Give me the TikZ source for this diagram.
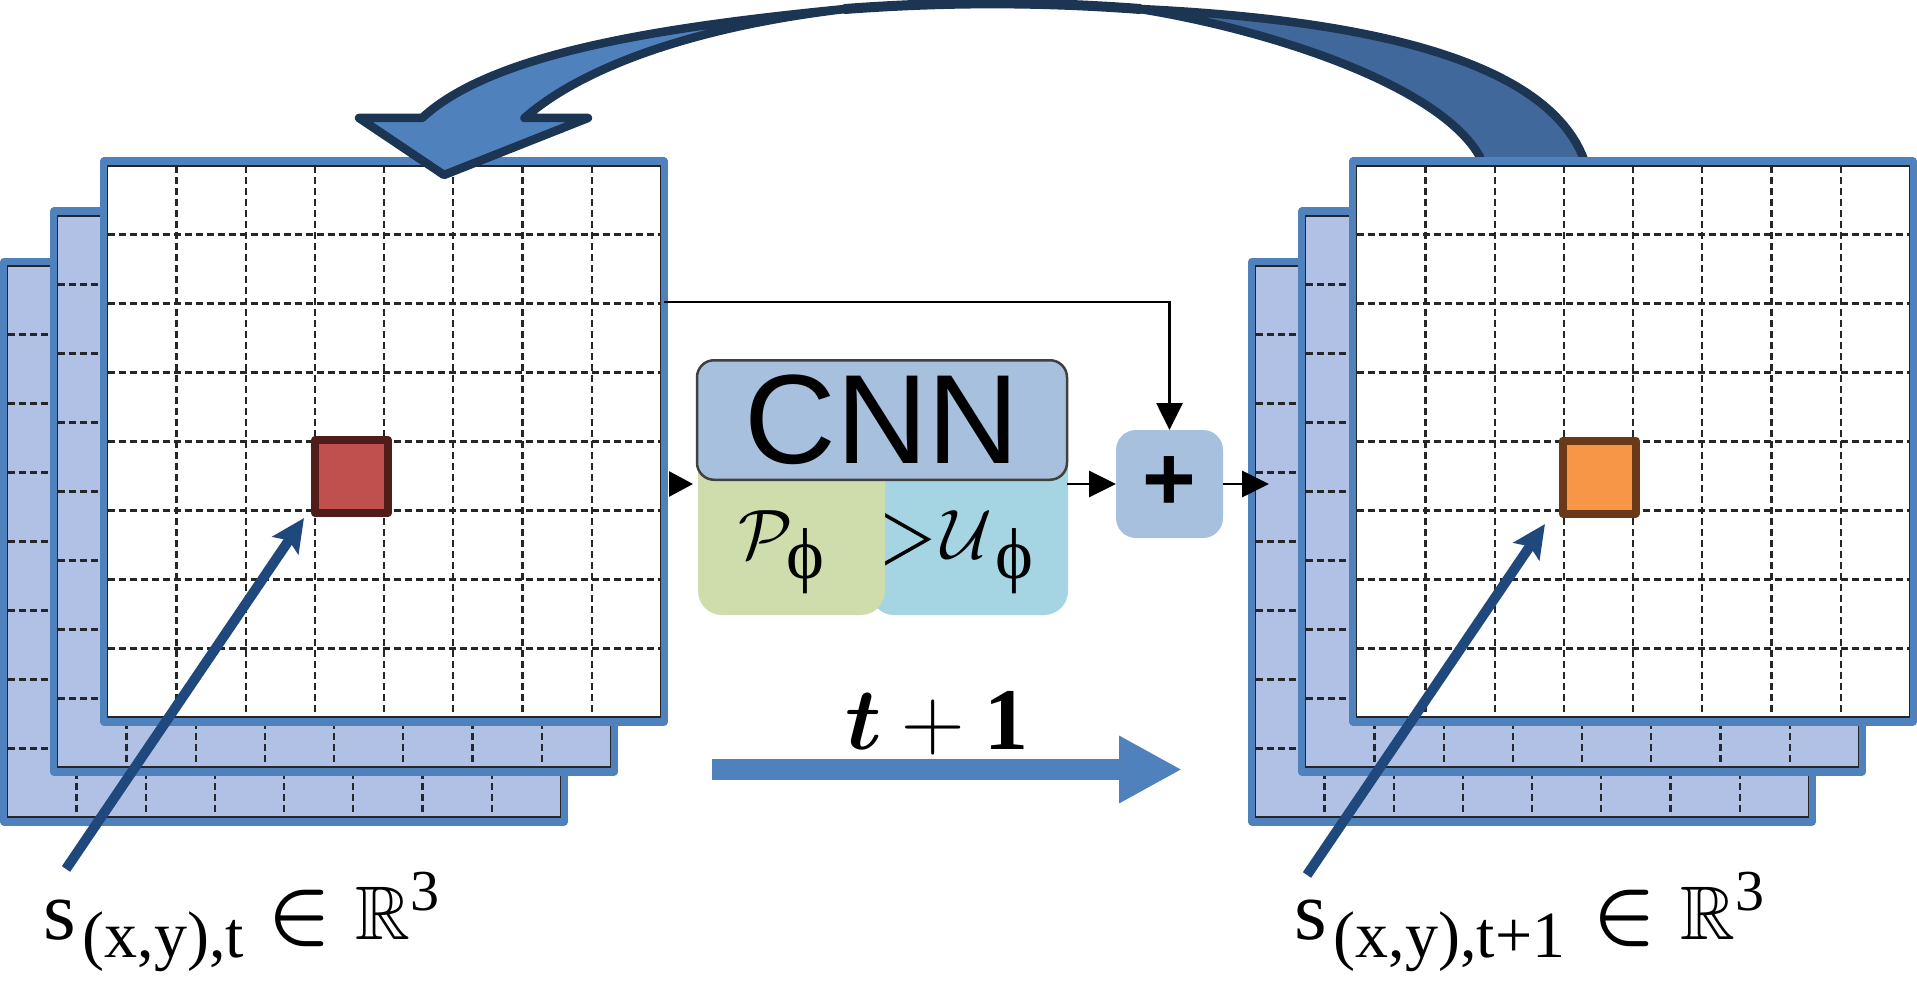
\documentclass[tikz,border=0pt]{standalone}
\usepackage{fix-cm}
\usepackage{amsmath}
\usepackage{amssymb}
\usepackage{fontspec}
\setmainfont{Liberation Serif}
\newfontfamily\boxfont{Liberation Sans}
\usetikzlibrary{arrows.meta,positioning}
\definecolor{sheetblue}{HTML}{4F81BD}
\definecolor{sheetfill}{HTML}{B0C1E5}
\definecolor{ribbondark}{HTML}{1C3553}
\definecolor{ribbonback}{HTML}{41689A}
\definecolor{boxblue}{HTML}{A7C0DE}
\definecolor{boxgreen}{HTML}{CFDDAC}
\definecolor{boxcyan}{HTML}{A5D5E2}
\definecolor{pointerblue}{HTML}{1F497D}
\definecolor{cellred}{HTML}{C0504D}
\definecolor{cellreddark}{HTML}{511D1B}
\definecolor{cellorange}{HTML}{F79646}
\definecolor{cellbrown}{HTML}{6A3A18}
\tikzset{
  sheet/.style={draw=sheetblue,line width=8pt,line join=round,minimum width=560pt,minimum height=560pt,inner sep=0pt,outer sep=0pt},
  gridframe/.style={black!85,line width=1.8pt},
  griddash/.style={black!85,line width=2.2pt,dash pattern=on 7pt off 4pt},
  cellmark/.style={line width=8pt,line join=round,minimum size=73pt,inner sep=0pt,outer sep=0pt},
  ribbon/.style={draw=ribbondark,line width=8.5pt,line join=round},
  softbox/.style={rounded corners=24pt,inner sep=0pt,outer sep=0pt},
  link/.style={black,line width=2.8pt,-{Triangle[length=27pt,width=26pt]}},
  pointer/.style={pointerblue,line width=10pt,-{Stealth[length=33pt,width=31pt,inset=6pt]}},
  every node/.append style={inner sep=0pt}
}
\newcommand{\gridsheet}[4]{
  \node[sheet,fill=#4] (#1) at (#2,#3) {};
  \begin{scope}[shift={(#2,#3)}]
    \draw[gridframe] (-276.5,-275.5) rectangle (276.5,275.5);
    \foreach \k in {-3,...,3} {
      \draw[griddash] (\k*69.2,-275.5) -- (\k*69.2,275.5);
      \draw[griddash] (-276.5,\k*69) -- (276.5,\k*69);
    }
  \end{scope}
}
\newcommand{\statelabel}[2]{\fontsize{84}{84}\selectfont s\hspace{7pt}\raisebox{-18pt}{\fontsize{66}{66}\selectfont (x,y),#1}\hspace{#2}$\boldsymbol{\in}$\hspace{24pt}{\fontsize{76}{76}\selectfont$\mathbb{R}$}\raisebox{29pt}{\fontsize{58}{58}\selectfont 3}}
\newcommand{\netlabel}[2]{\fontsize{70}{70}\selectfont$\mathcal{#1}$\hspace{#2}\raisebox{-20.5pt}{\fontsize{72}{72}\selectfont ϕ}}
\begin{document}
\begin{tikzpicture}[x=1pt,y=-1pt]
\useasboundingbox (0,0) rectangle (1917,987);
\path[ribbon,fill=ribbonback] (1140,9) .. controls (1330,18) and (1540,50) .. (1583,157) -- (1590,175) -- (1480,175) -- (1480,157) .. controls (1440,85) and (1270,30) .. (1140,9) -- cycle;
\gridsheet{sheetLc}{284}{541.5}{sheetfill}
\gridsheet{sheetLb}{334}{491.5}{sheetfill}
\gridsheet{sheetLa}{384}{441.5}{white}
\gridsheet{sheetRc}{1532}{541.5}{sheetfill}
\gridsheet{sheetRb}{1582}{491.5}{sheetfill}
\gridsheet{sheetRa}{1633}{441.5}{white}
\path[ribbon,fill=sheetblue] (845,9) .. controls (650,28) and (490,55) .. (422,118) -- (359,118) -- (444,175) -- (588,118) -- (524.5,118) .. controls (585,65) and (700,26) .. (845,9) -- cycle;
\draw[ribbondark,line width=10pt,line cap=round] (845,9) .. controls (945,1.5) and (1040,1.5) .. (1140,9);
\node[cellmark,draw=cellreddark,fill=cellred] (cellL) at (351.5,476.5) {};
\node[cellmark,draw=cellbrown,fill=cellorange] (cellR) at (1599,477) {};
\node[softbox,fill=boxcyan,minimum width=198pt,minimum height=175pt] (update) at (969,527.5) {};
\coordinate (chevtip) at (927.8,539.3);
\draw[black,line width=3.5pt] (update.west |- 0,506.5) -- (chevtip) -- (update.west |- 0,572);
\node[softbox,fill=boxgreen,minimum width=187pt,minimum height=175pt] (percept) at (791.5,527.5) {};
\node[softbox,rounded corners=17pt,draw=black!75,line width=2.5pt,fill=boxblue,minimum width=370pt,minimum height=119.5pt,font=\boxfont\fontsize{127}{127}\selectfont] (cnn) at (882,420) {\raisebox{-2pt}{CNN}};
\node[softbox,rounded corners=20pt,fill=boxblue,minimum width=107pt,minimum height=108pt,font=\boxfont\bfseries\fontsize{92}{92}\selectfont] (plus) at (1169.5,484) {\raisebox{-5pt}{+}};
\node[anchor=base west] (perceptlabel) at (738,558) {\netlabel{P}{-6pt}};
\node[anchor=base west] (updatelabel) at (941,558) {\netlabel{U}{4pt}};
\coordinate (rightin) at (1269,484);
\draw[black,line width=2.8pt,shorten <=5pt,shorten >=4pt,-{Triangle[length=24pt,width=25pt]}] (sheetLa.east |- plus) -- (cnn.west |- plus);
\draw[link] (sheetLa.east |- 0,302) -| (plus);
\draw[link] (cnn.east |- plus) -- (plus);
\draw[link] (plus) -- (rightin);
\coordinate (stepfrom) at (711.5,769.5);
\coordinate (stepto) at (1182,769.5);
\draw[sheetblue,line width=21pt,-{Triangle[length=63pt,width=63pt]}] (stepfrom) -- (stepto);
\node[anchor=base west] (steplabel) at (845,749) {\fontsize{88}{88}\selectfont$\boldsymbol{t}+\mathbf{1}$};
\node[anchor=base west] (stateL) at (43,939) {\statelabel{t}{23pt}};
\node[anchor=base west] (stateR) at (1294,939) {\statelabel{t+1}{27pt}};
\coordinate (pointL) at (66,869);
\coordinate (tipL) at (304,518);
\coordinate (pointR) at (1307,875);
\coordinate (tipR) at (1545,524);
\draw[pointer] (pointL) -- (tipL);
\draw[pointer] (pointR) -- (tipR);
\end{tikzpicture}
\end{document}
